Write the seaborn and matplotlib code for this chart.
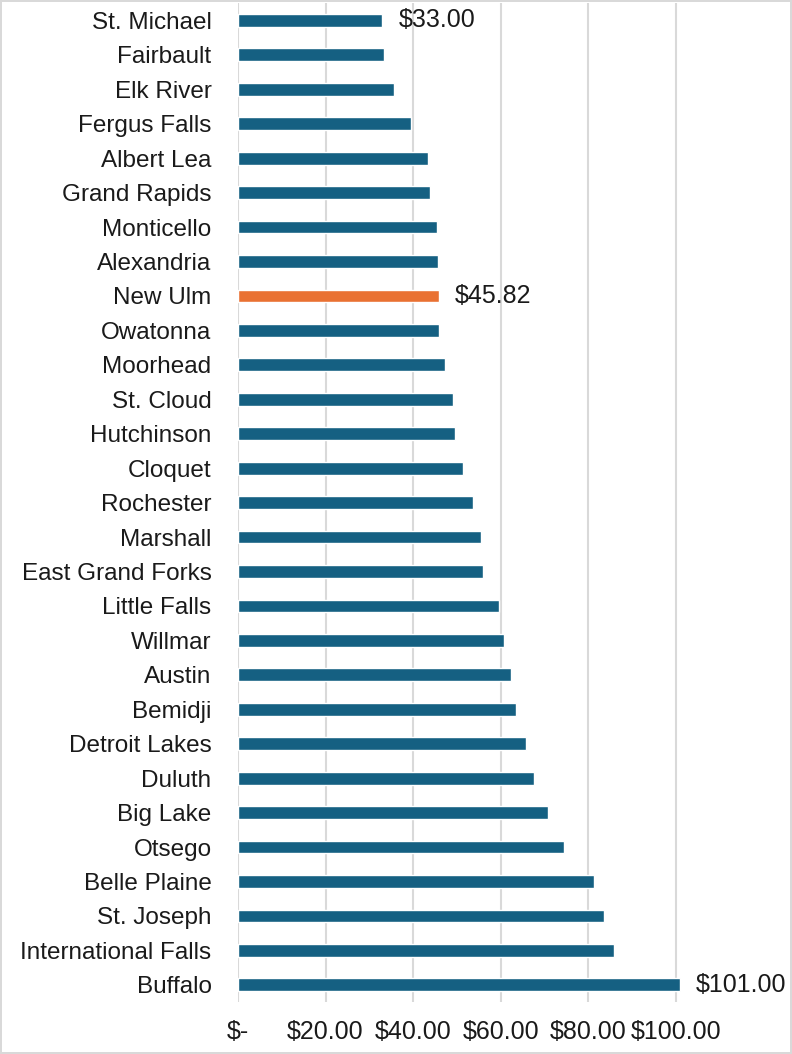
import matplotlib
matplotlib.use("Agg")
import matplotlib.pyplot as plt
import seaborn as sns

cities = [
    "St. Michael", "Fairbault", "Elk River", "Fergus Falls", "Albert Lea",
    "Grand Rapids", "Monticello", "Alexandria", "New Ulm", "Owatonna",
    "Moorhead", "St. Cloud", "Hutchinson", "Cloquet", "Rochester",
    "Marshall", "East Grand Forks", "Little Falls", "Willmar", "Austin",
    "Bemidji", "Detroit Lakes", "Duluth", "Big Lake", "Otsego",
    "Belle Plaine", "St. Joseph", "International Falls", "Buffalo",
]
values = [
    33.00, 33.3, 35.6, 39.5, 43.4,
    43.8, 45.5, 45.8, 45.82, 46.0,
    47.2, 49.2, 49.5, 51.3, 53.7,
    55.6, 55.9, 59.7, 60.7, 62.3,
    63.5, 65.9, 67.6, 70.8, 74.5,
    81.4, 83.6, 85.9, 101.00,
]
labelled = {"St. Michael": "$33.00", "New Ulm": "$45.82", "Buffalo": "$101.00"}
highlight = "New Ulm"
x_ticks = [0, 20, 40, 60, 80, 100]
x_tick_labels = ["$-", "$20.00", "$40.00", "$60.00", "$80.00", "$100.00"]

BLUE = "#156082"
ORANGE = "#E97132"
GRID = "#D9D9D9"
TEXT = "#1a1a1a"

sns.set_theme(style="white")
plt.rcParams["font.family"] = ["Liberation Sans", "DejaVu Sans"]

fig = plt.figure(figsize=(7.92, 10.54), dpi=100)
fig.patch.set_edgecolor(GRID)
fig.patch.set_linewidth(1.5)
ax = fig.add_axes([0.3005, 0.0493, 0.608, 0.9477])

palette = {c: (ORANGE if c == highlight else BLUE) for c in cities}
sns.barplot(x=values, y=cities, hue=cities, palette=palette, orient="h",
            width=0.37, legend=False, ax=ax, zorder=3, saturation=1)

ax.set_xlim(0, 110)
ax.set_xticks(x_ticks)
ax.set_xticklabels(x_tick_labels, fontsize=18, color=TEXT)
for t in x_ticks:
    ax.axvline(t, color=GRID, linewidth=1.5, zorder=1)
for s in ax.spines.values():
    s.set_visible(False)
ax.tick_params(axis="y", length=0, pad=19, labelsize=17.5, labelcolor=TEXT)
ax.tick_params(axis="x", length=0, pad=13)
ax.set_xlabel("")
ax.set_ylabel("")

for i, (c, v) in enumerate(zip(cities, values)):
    if c in labelled:
        ax.annotate(labelled[c], xy=(v, i), xytext=(11.5, 0), textcoords="offset points",
                    va="center", ha="left", fontsize=18, color=TEXT,
                    annotation_clip=False)

fig.savefig("out.png", dpi=100, edgecolor=fig.get_edgecolor())
